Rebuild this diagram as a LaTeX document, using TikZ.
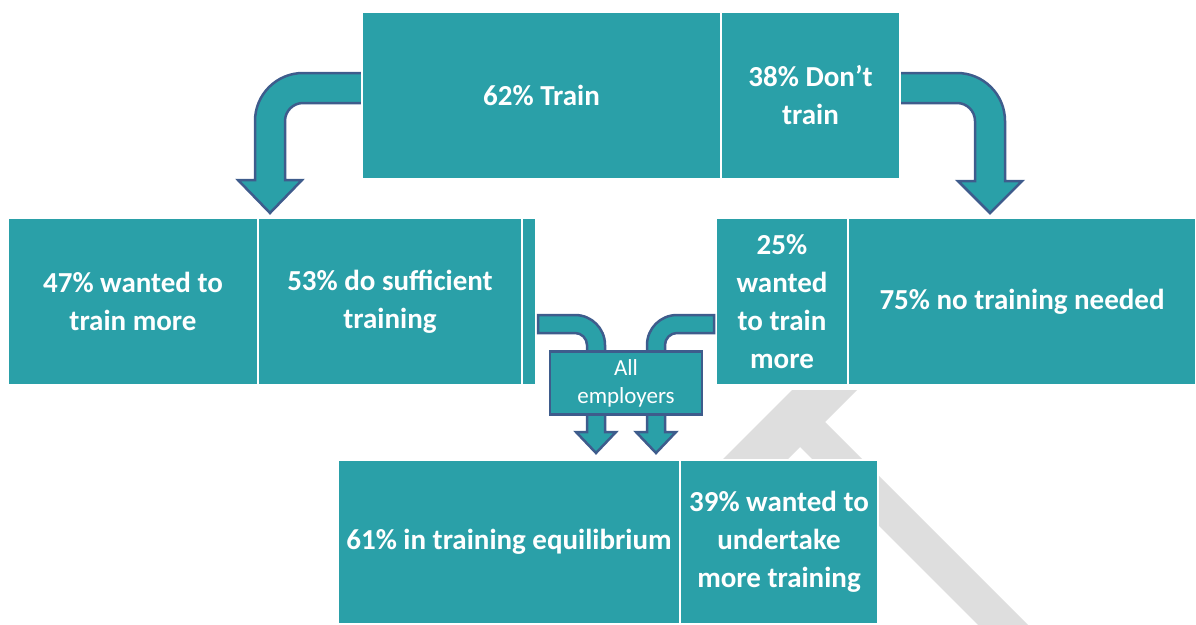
\documentclass[tikz,border=0pt]{standalone}
\usepackage{fontspec}
\setmainfont{Carlito}
\usetikzlibrary{positioning}

\definecolor{boxteal}{RGB}{42,160,168}
\definecolor{edgeblue}{RGB}{62,92,140}
\definecolor{wmgray}{RGB}{222,222,222}

\begin{document}
\begin{tikzpicture}[x=1pt, y=-1pt,
  cell/.style={draw=white, line width=1.6pt, fill=boxteal, text=white, inner sep=0pt, outer sep=0pt,
    align=center, minimum height=167pt, font=\bfseries\fontsize{29}{38}\selectfont},
  bentarrow/.style={draw=edgeblue, line width=2.5pt, fill=boxteal, line join=miter}]
  \useasboundingbox (0,0) rectangle (1196,624);

  % faint watermark behind everything
  \fill[wmgray] (792,390) -- (857,390) -- (825,422) -- (1043,640) -- (993,640) -- (800,447)
    -- (774,473) -- (709,473) -- cycle;

  % bent arrows out of the top bar
  \draw[bentarrow] (368,73) -- (303,73) .. controls (276.5,73) and (255,94.5) .. (255,121) -- (255,180)
    -- (238,180) -- (270,213) -- (302,180) -- (285,180) -- (285,121)
    .. controls (285,111.1) and (293.1,103) .. (303,103) -- (368,103) -- cycle;
  \draw[bentarrow] (894,73) -- (957,73) .. controls (983.5,73) and (1005,94.5) .. (1005,121) -- (1005,181)
    -- (1022,181) -- (990,213) -- (958,181) -- (975,181) -- (975,121)
    .. controls (975,111.1) and (966.9,103) .. (957,103) -- (894,103) -- cycle;

  % top bar
  \node[cell, anchor=north west, minimum width=359pt] (train) at (362,12) {62\% Train};
  \node[cell, right=0pt of train, minimum width=179pt] (notrain) {38\% Don’t\\train};

  % second row
  \node[cell, anchor=north west, minimum width=250pt] (wantmore) at (8,218) {47\% wanted to\\train more};
  \node[cell, right=0pt of wantmore, minimum width=264pt] (sufficient) {53\% do sufficient\\training};
  \node[cell, right=0pt of sufficient, minimum width=14pt] (sliver) {};
  \node[cell, anchor=north west, minimum width=132pt] (wantmoreb) at (716,218) {25\%\\wanted\\to train\\more};
  \node[cell, right=0pt of wantmoreb, minimum width=348pt] (noneed) {75\% no training needed};

  % bottom row
  \node[cell, anchor=north west, minimum width=342pt, minimum height=164pt] (equil) at (338,460)
    {61\% in training equilibrium};
  \node[cell, right=0pt of equil, minimum width=198pt, minimum height=164pt] (undertake)
    {39\% wanted to\\undertake\\more training};

  % small arrows into the bottom row
  \draw[bentarrow] (538,315) -- (575,315) .. controls (591.6,315) and (605,328.4) .. (605,345) -- (605,432)
    -- (616,432) -- (596,453) -- (576,432) -- (587,432) -- (587,345)
    .. controls (587,338.4) and (581.6,333) .. (575,333) -- (538,333) -- cycle;
  \draw[bentarrow] (714,315) -- (677,315) .. controls (660.4,315) and (647,328.4) .. (647,345) -- (647,432)
    -- (636,432) -- (656,453) -- (676,432) -- (665,432) -- (665,345)
    .. controls (665,338.4) and (670.4,333) .. (677,333) -- (714,333) -- cycle;

  \node[draw=edgeblue, line width=2.5pt, fill=boxteal, text=white, minimum width=152pt, minimum height=63pt,
    inner sep=0pt, align=center, font=\fontsize{23}{28}\selectfont] (allemp) at (626,383) {All\\employers};
\end{tikzpicture}
\end{document}
